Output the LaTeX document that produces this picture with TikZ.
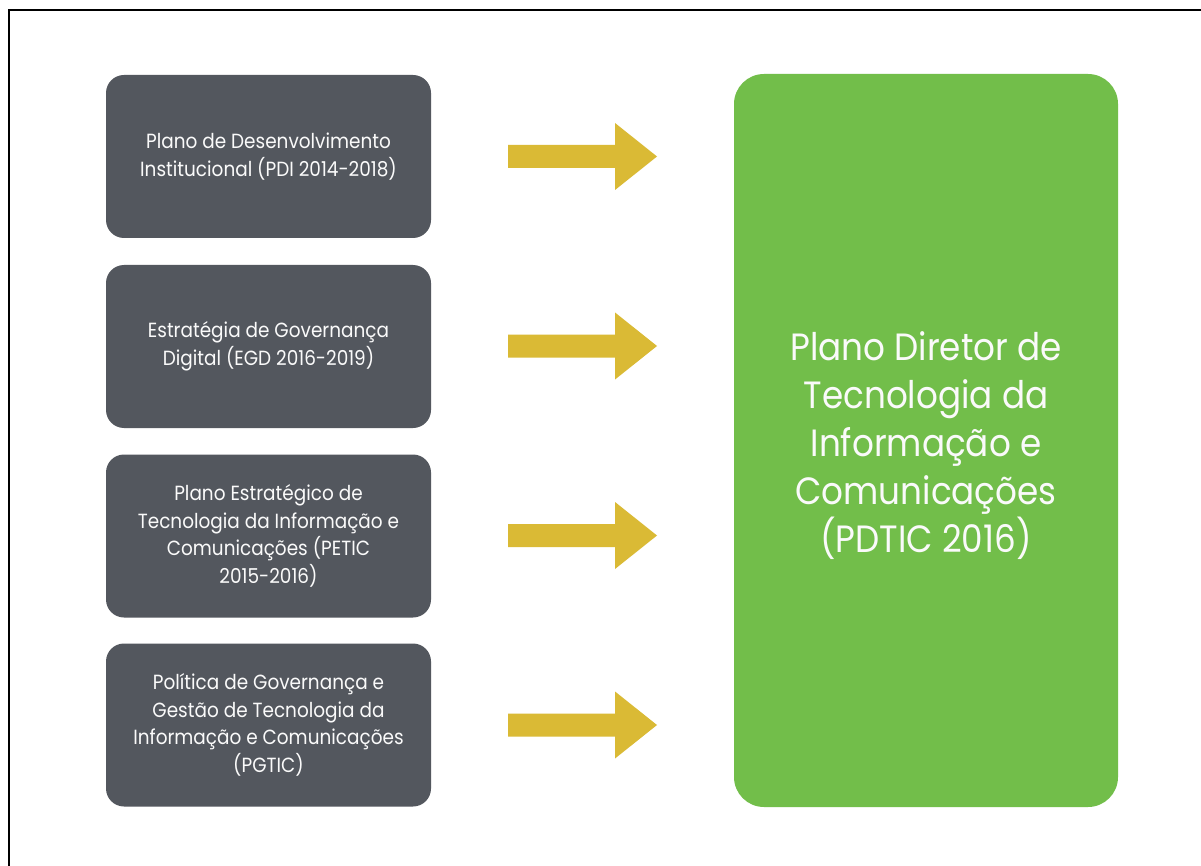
\documentclass[tikz,border=0pt]{standalone}
\usepackage{fontspec}
\setmainfont{Poppins}[FakeStretch=0.9]
\definecolor{boxgray}{RGB}{83,87,94}
\definecolor{boxgreen}{RGB}{114,190,74}
\definecolor{arrowyellow}{RGB}{218,186,53}
\definecolor{textwhite}{RGB}{250,250,250}
\tikzset{
  srcbox/.style={rectangle, rounded corners=18pt, fill=boxgray, minimum width=325pt,
    minimum height=163pt, text=textwhite, align=center, inner sep=0pt,
    font=\fontsize{20.5}{27.5}\selectfont},
  targetbox/.style={rectangle, rounded corners=30pt, fill=boxgreen, minimum width=384pt,
    minimum height=733pt, inner sep=0pt},
  targettext/.style={text=textwhite, align=center, inner sep=0pt,
    font=\fontsize{38}{48}\selectfont},
  framestyle/.style={draw=black, line width=1.5pt},
  bigarrow/.pic={\fill[arrowyellow] (0,-11.5) -- (107,-11.5) -- (107,-33.5) -- (149,0)
    -- (107,33.5) -- (107,11.5) -- (0,11.5) -- cycle;}
}
\begin{document}
\begin{tikzpicture}[x=1pt,y=-1pt]
\useasboundingbox (0,0) rectangle (1201,866);
\fill[white] (0,0) rectangle (1201,866);
\draw[framestyle] (9,866) -- (9,10) -- (1201,10);

\node[srcbox] (b1) at (268.5,156.5) {Plano de Desenvolvimento\\Institucional (PDI 2014-2018)};
\node[srcbox] (b2) at (268.5,346.5) {Estratégia de Governança\\Digital (EGD 2016-2019)};
\node[srcbox] (b3) at (268.5,536) {Plano Estratégico de\\Tecnologia da Informação e\\Comunicações (PETIC\\2015-2016)};
\node[srcbox] (b4) at (268.5,725) {Política de Governança e\\Gestão de Tecnologia da\\Informação e Comunicações\\(PGTIC)};

\node[targetbox] (t) at (926,440.5) {};
\node[targettext] (tt) at (926,446) {Plano Diretor de\\Tecnologia da\\Informação e\\Comunicações\\(PDTIC 2016)};

\pic (a1) at (508,156.5) {bigarrow};
\pic (a2) at (508,346) {bigarrow};
\pic (a3) at (508,535.5) {bigarrow};
\pic (a4) at (508,725) {bigarrow};
\end{tikzpicture}
\end{document}
